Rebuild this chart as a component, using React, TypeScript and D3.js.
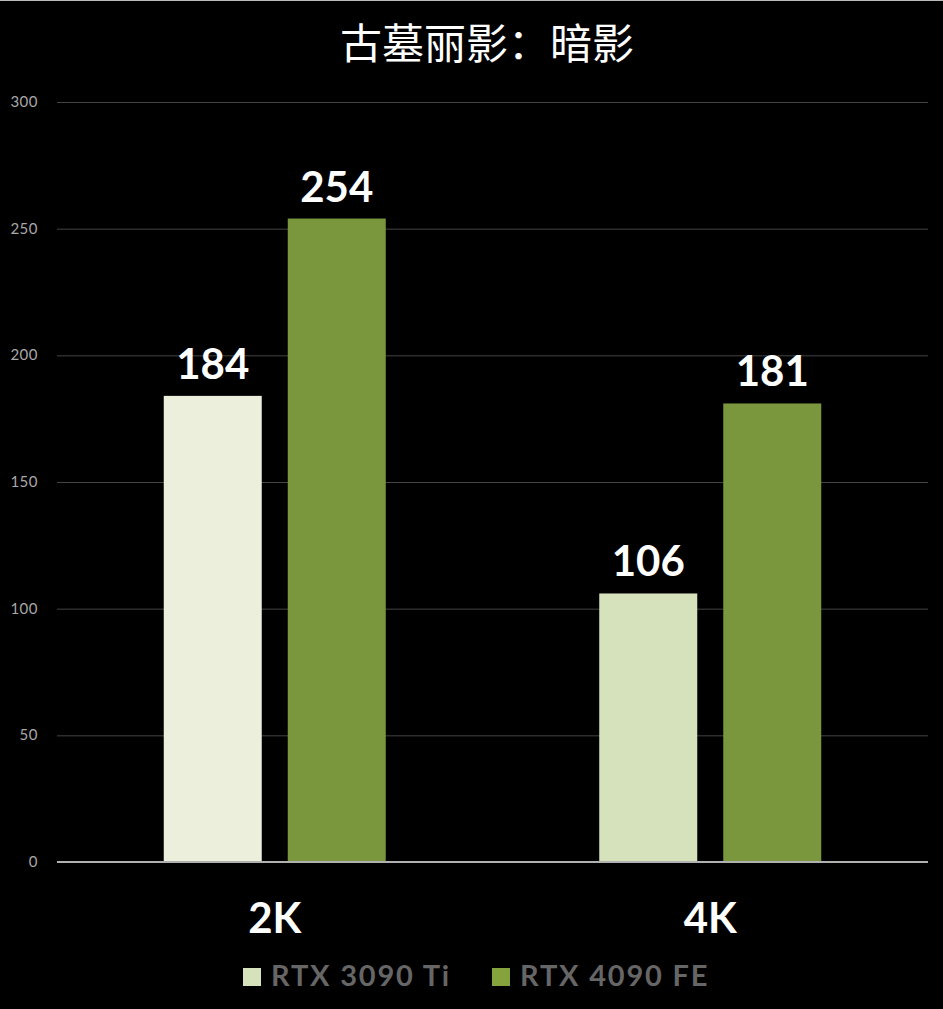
import { useEffect, useRef } from 'react';
import * as d3 from 'd3';

const title = '古墓丽影：暗影';
const categories = ['2K', '4K'];
const series = ['RTX 3090 Ti', 'RTX 4090 FE'];
const rtx3090ti = [184, 106];
const rtx4090fe = [254, 181];
const yTicks = [0, 50, 100, 150, 200, 250, 300];

// the light bars are not the same shade in the two groups
const barColors = [
  ['#ebefdc', '#d5e2bb'],
  ['#7a973e', '#7a973e'],
];
const legendColors = ['#d5e2bb', '#84a33c'];

const W = 943;
const H = 1009;

const App = () => {
  const ref = useRef<SVGSVGElement | null>(null);

  useEffect(() => {
    const svg = d3.select(ref.current);
    svg.selectAll('*').remove();

    const margin = { top: 102, right: 15, bottom: 147, left: 57 };
    const values = [rtx3090ti, rtx4090fe];

    svg.append('rect').attr('width', W).attr('height', H).attr('fill', '#000');
    svg.append('rect').attr('width', W).attr('height', 1).attr('fill', '#bbb');

    const y = d3.scaleLinear().domain([0, 300]).range([H - margin.bottom, margin.top]);
    const x0 = d3.scaleBand().domain(categories).range([margin.left, W - margin.right]).padding(0);
    const groupW = 222;

    // gridlines
    svg.append('g')
      .selectAll('line')
      .data(yTicks.filter(t => t > 0))
      .enter().append('line')
      .attr('x1', margin.left)
      .attr('x2', W - margin.right)
      .attr('y1', d => y(d) + 0.5)
      .attr('y2', d => y(d) + 0.5)
      .attr('stroke', '#444')
      .attr('stroke-width', 1);

    // tick labels
    svg.append('g')
      .selectAll('text')
      .data(yTicks)
      .enter().append('text')
      .attr('x', 38)
      .attr('y', d => y(d) + 5)
      .attr('text-anchor', 'end')
      .attr('fill', '#a8a8a8')
      .attr('font-family', 'Lato, sans-serif')
      .attr('font-size', 15)
      .attr('letter-spacing', 0.5)
      .text(d => d);

    categories.forEach((cat, ci) => {
      const cx = x0(cat)! + x0.bandwidth() / 2;
      const x1 = d3.scaleBand()
        .domain(series)
        .range([cx - groupW / 2, cx + groupW / 2])
        .paddingInner(26 / 124)
        .paddingOuter(0);

      series.forEach((s, si) => {
        const v = values[si][ci];
        svg.append('rect')
          .attr('x', x1(s)!)
          .attr('y', y(v))
          .attr('width', x1.bandwidth())
          .attr('height', y(0) - y(v))
          .attr('fill', barColors[si][ci]);

        svg.append('text')
          .attr('x', x1(s)! + x1.bandwidth() / 2)
          .attr('y', y(v) - 17)
          .attr('text-anchor', 'middle')
          .attr('fill', '#fff')
          .attr('font-family', 'Lato, sans-serif')
          .attr('font-weight', 700)
          .attr('font-size', 42)
          .text(v);
      });

      svg.append('text')
        .attr('x', cx)
        .attr('y', 933)
        .attr('text-anchor', 'middle')
        .attr('fill', '#fff')
        .attr('font-family', 'Lato, sans-serif')
        .attr('font-weight', 700)
        .attr('font-size', 42)
        .text(cat);
    });

    // baseline
    svg.append('line')
      .attr('x1', margin.left)
      .attr('x2', W - margin.right)
      .attr('y1', y(0))
      .attr('y2', y(0))
      .attr('stroke', '#b0b0b0')
      .attr('stroke-width', 2);

    // title
    svg.append('text')
      .attr('x', 487)
      .attr('y', 59)
      .attr('text-anchor', 'middle')
      .attr('fill', '#fff')
      .attr('font-family', '"Noto Sans CJK SC", sans-serif')
      .attr('font-size', 42)
      .text(title);

    // legend
    const legendX = [243, 492];
    series.forEach((s, i) => {
      svg.append('rect')
        .attr('x', legendX[i])
        .attr('y', 968)
        .attr('width', 18)
        .attr('height', 18)
        .attr('fill', legendColors[i]);
      svg.append('text')
        .attr('x', legendX[i] + 28)
        .attr('y', 986)
        .attr('fill', '#666')
        .attr('font-family', 'Lato, sans-serif')
        .attr('font-weight', 700)
        .attr('font-size', 29)
        .attr('letter-spacing', 1.8)
        .text(s);
    });
  }, []);

  return (
    <svg
      ref={ref}
      width={W}
      height={H}
      style={{ position: 'absolute', left: 0, top: 0 }}
    ></svg>
  );
};

export default App;
